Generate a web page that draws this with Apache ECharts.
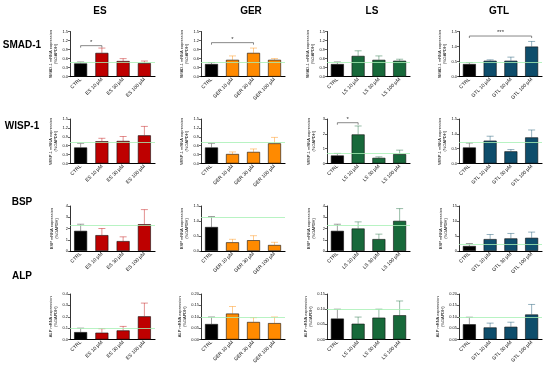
<!DOCTYPE html>
<html><head><meta charset="utf-8">
<script src="https://cdn.jsdelivr.net/npm/echarts@6/dist/echarts.min.js"></script>
<style>html,body{margin:0;padding:0;background:#fff}#c{width:550px;height:366px}</style>
</head><body><div id="c"></div>
<script>
// ---------- data ----------
const treatments = ['ES', 'GER', 'LS', 'GTL'];
const genes = ['SMAD-1', 'WISP-1', 'BSP', 'ALP'];
const doses = ['CTRL', '10 µM', '30 µM', '100 µM'];

// rows: treatment (ES, GER, LS, GTL); columns: CTRL, 10, 30, 100 µM
const smad1Mean = [[0.44, 0.79, 0.52, 0.45], [0.42, 0.56, 0.79, 0.56], [0.42, 0.69, 0.56, 0.53], [0.42, 0.53, 0.53, 1.00]];
const smad1Err  = [[0.05, 0.16, 0.08, 0.07], [0.05, 0.13, 0.16, 0.04], [0.07, 0.17, 0.13, 0.05], [0.05, 0.03, 0.12, 0.17]];
const wisp1Mean = [[0.54, 0.75, 0.76, 0.95], [0.54, 0.32, 0.39, 0.68], [0.54, 1.96, 0.38, 0.63], [0.54, 0.77, 0.41, 0.88]];
const wisp1Err  = [[0.14, 0.10, 0.15, 0.30], [0.14, 0.07, 0.10, 0.20], [0.14, 0.57, 0.07, 0.27], [0.15, 0.15, 0.06, 0.25]];
const bspMean   = [[1.79, 1.41, 0.88, 2.38], [0.80, 0.29, 0.36, 0.20], [1.79, 2.00, 1.06, 2.68], [1.66, 3.97, 4.20, 4.40]];
const bspErr    = [[0.59, 0.59, 0.38, 1.30], [0.35, 0.10, 0.15, 0.09], [0.59, 0.59, 0.44, 1.09], [0.84, 1.53, 1.65, 1.90]];
const alpMean   = [[0.065, 0.060, 0.080, 0.204], [0.068, 0.114, 0.077, 0.072], [0.069, 0.052, 0.072, 0.080], [0.067, 0.053, 0.056, 0.110]];
const alpErr    = [[0.035, 0.035, 0.035, 0.116], [0.031, 0.031, 0.019, 0.027], [0.031, 0.022, 0.028, 0.047], [0.031, 0.019, 0.020, 0.044]];

// axis ranges per gene row, per treatment column
const yMax  = [[1.5, 1.5, 1.5, 1.5], [1.5, 1.5, 3, 1.5], [4, 1.5, 4, 15], [0.4, 0.2, 0.15, 0.2]];
const yStep = [[0.3, 0.3, 0.3, 0.5], [0.3, 0.3, 1, 0.5], [1, 0.5, 1, 5], [0.1, 0.05, 0.05, 0.05]];
// light green reference level
const refLevel = [[0.47, 0.49, 0.47, 0.47], [0.70, 0.70, 0.72, 0.70], [2.27, 1.12, 2.27, 2.30], [0.10, 0.10, 0.10, 0.10]];
// significance: [geneIdx, treatIdx, fromDose, toDose, level, label]
const sigBrackets = [
  [0, 0, 0, 1, 1.03, '*'],
  [0, 1, 0, 2, 1.13, '*'],
  [0, 3, 0, 3, 1.35, '***'],
  [1, 2, 0, 1, 2.75, '*']
];

// ---------- style / layout ----------
const colors = ['#BE0000', '#FF8A00', '#17693A', '#0E4D6B'];
const ctrlColor = '#000000';
const colLeft = [70, 201, 327, 459];
const colWidth = [85, 84, 83, 83];
const rowTop = [31.5, 119, 206, 294];
const rowHeight = [45.2, 44.5, 45, 45.5];
const colTitleX = [100, 251, 372, 499];
const rowTitleY = [45, 126, 202, 276];
const FONT = 'Liberation Sans, Arial, sans-serif';

const meanSets = [smad1Mean, wisp1Mean, bspMean, alpMean];
const errSets = [smad1Err, wisp1Err, bspErr, alpErr];

function decimals(step) {
  const s = String(step);
  return s.indexOf('.') < 0 ? 0 : s.split('.')[1].length;
}

const grid = [], xAxis = [], yAxis = [], series = [];
let k = 0;
for (let g = 0; g < 4; g++) {
  for (let t = 0; t < 4; t++) {
    grid.push({ left: colLeft[t], top: rowTop[g], width: colWidth[t], height: rowHeight[g], containLabel: false });
    const cats = doses.map((d, i) => i === 0 ? d : treatments[t] + ' ' + d);
    xAxis.push({
      type: 'category', gridIndex: k, data: cats,
      axisLine: { lineStyle: { color: '#000', width: 1.2 } },
      axisTick: { show: false },
      axisLabel: { rotate: 45, fontSize: 5, color: '#111', margin: 2, fontFamily: FONT, interval: 0 }
    });
    const dec = decimals(yStep[g][t]);
    yAxis.push({
      type: 'value', gridIndex: k, min: 0, max: yMax[g][t], interval: yStep[g][t],
      name: genes[g] + ' mRNA expression\n(%GAPDH)',
      nameLocation: 'middle', nameGap: 11,
      nameTextStyle: { fontSize: 4, color: '#111', fontFamily: FONT, lineHeight: 5 },
      axisLine: { show: true, lineStyle: { color: '#000', width: 0.8 } },
      axisTick: { show: true, length: 2, lineStyle: { color: '#000', width: 0.6 } },
      splitLine: { show: false },
      axisLabel: { fontSize: 4, color: '#111', margin: 2, fontFamily: FONT, formatter: v => v.toFixed(dec) }
    });
    const means = meanSets[g][t];
    const errs = errSets[g][t];
    series.push({
      type: 'bar', xAxisIndex: k, yAxisIndex: k, barWidth: 13, z: 3,
      data: means.map((v, i) => ({ value: v, itemStyle: { color: i === 0 ? ctrlColor : colors[t] } })),
      itemStyle: { borderColor: '#111', borderWidth: 0.6 }
    });
    const tcol = colors[t];
    series.push({
      type: 'custom', xAxisIndex: k, yAxisIndex: k, z: 1,
      encode: { x: 0, y: 1 },
      data: means.map((v, i) => [i, v, errs[i]]),
      markLine: {
        silent: true, symbol: 'none', label: { show: false },
        lineStyle: { color: '#A6F0B4', width: 0.8, type: 'solid' },
        data: [{ yAxis: refLevel[g][t] }]
      },
      renderItem(params, api) {
        const i = api.value(0), m = api.value(1), e = api.value(2);
        const p0 = api.coord([i, m]);
        const p1 = api.coord([i, m + e]);
        const col = i === 0 ? '#888' : tcol;
        const st = { stroke: col, lineWidth: 0.8, opacity: i === 0 ? 1 : 0.55 };
        return {
          type: 'group', children: [
            { type: 'line', shape: { x1: p0[0], y1: p0[1], x2: p1[0], y2: p1[1] }, style: st },
            { type: 'line', shape: { x1: p1[0] - 3.5, y1: p1[1], x2: p1[0] + 3.5, y2: p1[1] }, style: st }
          ]
        };
      }
    });
    const br = sigBrackets.filter(b => b[0] === g && b[1] === t);
    if (br.length) {
      series.push({
        type: 'custom', xAxisIndex: k, yAxisIndex: k, z: 4,
        encode: { x: [0, 1], y: 2 },
        data: br.map(b => [b[2], b[3], b[4], b[5]]),
        renderItem(params, api) {
          const a = api.coord([api.value(0), api.value(2)]);
          const b = api.coord([api.value(1), api.value(2)]);
          const lbl = br[params.dataIndex][5];
          const st = { stroke: '#555', lineWidth: 0.7, fill: null };
          return {
            type: 'group', children: [
              { type: 'polyline', shape: { points: [[a[0], a[1] + 2], [a[0], a[1]], [b[0], b[1]], [b[0], b[1] + 2]] }, style: st },
              { type: 'text', x: (a[0] + b[0]) / 2, y: a[1] - 0.5,
                style: { text: lbl, fontSize: 6, fill: '#333', textAlign: 'center', textVerticalAlign: 'bottom', fontFamily: FONT } }
            ]
          };
        }
      });
    }
    k++;
  }
}

const graphic = [];
treatments.forEach((t, i) => graphic.push({
  type: 'text', x: colTitleX[i], y: 11.5,
  style: { text: t, fontSize: 10, fontWeight: 'bold', fill: '#000', textAlign: 'center', textVerticalAlign: 'middle', fontFamily: FONT }
}));
genes.forEach((gname, i) => graphic.push({
  type: 'text', x: 22, y: rowTitleY[i],
  style: { text: gname, fontSize: 10, fontWeight: 'bold', fill: '#000', textAlign: 'center', textVerticalAlign: 'middle', fontFamily: FONT }
}));

const chart = echarts.init(document.getElementById('c'), null, { renderer: 'canvas' });
chart.setOption({ animation: false, backgroundColor: '#fff', grid, xAxis, yAxis, series, graphic });
</script>
</body></html>
